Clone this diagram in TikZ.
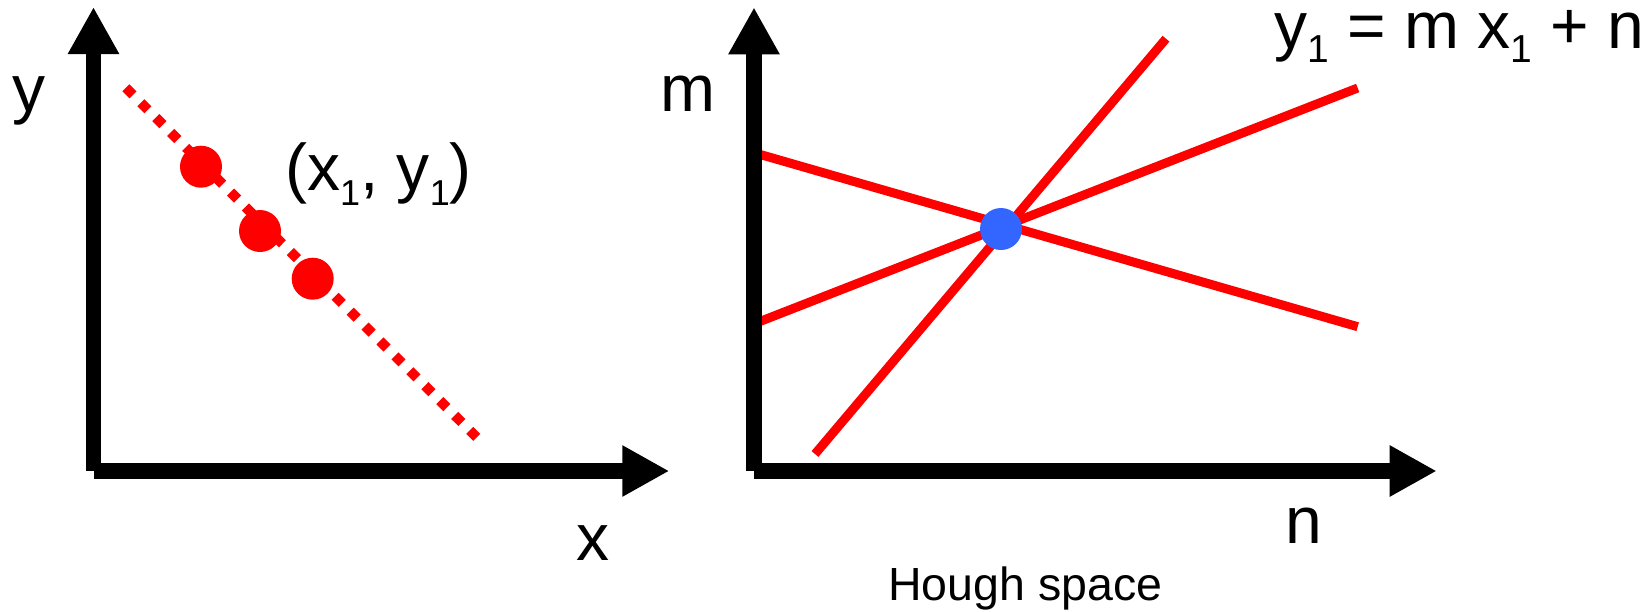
\documentclass[tikz,border=0pt]{standalone}
\usepackage{fontspec}
\setmainfont{Liberation Sans}
\usetikzlibrary{arrows.meta}
\definecolor{hred}{RGB}{255,0,0}
\definecolor{hblue}{RGB}{51,102,255}
\newcommand\subsA[1]{\raisebox{-14.5pt}{\fontsize{36}{36}\selectfont #1}}
\newcommand\subsB[1]{\raisebox{-14.5pt}{\fontsize{39}{39}\selectfont #1}}
\begin{document}
\begin{tikzpicture}[x=1pt,y=-1pt,
  axis/.style={line width=15.5pt, line cap=butt, -{Triangle[length=47pt,width=48pt]}},
  houghline/.style={hred, line width=9pt, line cap=butt},
  dotline/.style={hred, line width=10pt, line cap=butt, dash pattern=on 10pt off 11.1pt},
  ptdot/.style={circle, fill=hred, minimum size=42pt, inner sep=0pt},
  bluedot/.style={circle, fill=hblue, minimum size=42pt, inner sep=0pt},
  lbl/.style={anchor=base west, inner sep=0pt, font=\fontsize{66}{70}\selectfont},
  capt/.style={anchor=base west, inner sep=0pt, font=\fontsize{46.5}{50}\selectfont}]
\useasboundingbox (0,0) rectangle (1647,611);
% coordinates
\coordinate (Lo) at (93.5,471);
\coordinate (Ly) at (93.5,7);
\coordinate (Lx) at (669.3,471);
\coordinate (Ro) at (754,471);
\coordinate (Rm) at (754,7.3);
\coordinate (Rn) at (1436.7,471);
\coordinate (dA) at (125.9,87.8);
\coordinate (dB) at (476.9,437.5);
\coordinate (a1) at (815,454);
\coordinate (a2) at (1166,38.7);
\coordinate (b1) at (754,323.8);
\coordinate (b2) at (1357.7,88);
\coordinate (c1) at (754,152.7);
\coordinate (c2) at (1357.7,326.7);
% left plot
\draw[dotline] (dA) -- (dB);
\node[ptdot] (p1) at (201,166.7) {};
\node[ptdot] (p2) at (260,231) {};
\node[ptdot] (p3) at (312.7,278.7) {};
% right plot
\draw[houghline] (a1) -- (a2);
\draw[houghline] (b1) -- (b2);
\draw[houghline] (c1) -- (c2);
\node[bluedot] (q) at (1001,229) {};
% axes
\draw[axis] (Lo) -- (Ly);
\draw[axis] (Lo) -- (Lx);
\draw[axis] (Ro) -- (Rm);
\draw[axis] (Ro) -- (Rn);
% labels
\node[lbl] (ylab) at (12,111) {y};
\node[lbl] (pt) at (285,190.7) {(x\subsA{1}, y\subsA{1})};
\node[lbl] (xlab) at (576.5,560) {x};
\node[lbl] (mlab) at (660.7,111.7) {m};
\node[lbl] (nlab) at (1285.6,543.5) {n};
\node[lbl] (eq) at (1274,48.3) {y\subsB{1} = m x\subsB{1} + n};
\node[capt] (hs) at (888,600) {Hough space};
\end{tikzpicture}
\end{document}
